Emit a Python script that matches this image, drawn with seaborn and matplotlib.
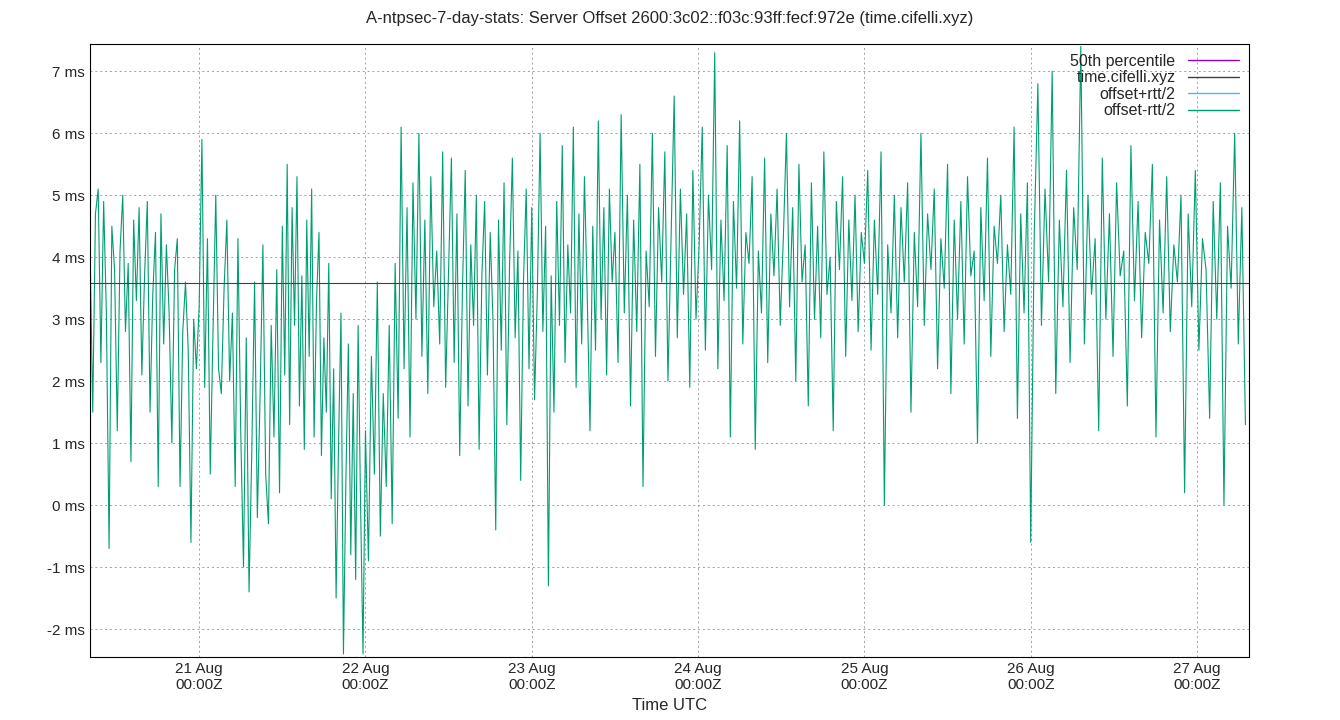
import matplotlib
matplotlib.use("Agg")
import matplotlib.pyplot as plt
import matplotlib.dates as mdates
from matplotlib.lines import Line2D
import seaborn as sns
import pandas as pd
import numpy as np

# segment boundaries (UTC) and offsets in ms
seg_edges = ["2024-08-20 08:15", "2024-08-21 00:00", "2024-08-21 12:00", "2024-08-22 00:00",
             "2024-08-22 12:00", "2024-08-23 12:00", "2024-08-25 00:00", "2024-08-26 00:00",
             "2024-08-27 07:30"]
seg_values = [
    [4.2, 1.5, 4.7, 5.1, 2.3, 4.9, 3.1, -0.7, 4.5, 3.8, 1.2, 4.1, 5.0, 2.8, 3.9, 0.7, 4.6, 3.3, 4.8, 2.1,
     3.7, 4.9, 1.5, 3.4, 4.4, 0.3, 4.7, 2.6, 4.2, 3.1, 1.0, 3.8, 4.3, 0.3, 2.8, 3.6, 2.5, -0.6, 3.0, 2.2],
    [3.2, 5.9, 1.9, 4.3, 0.5, 2.8, 5.0, 2.2, 1.8, 3.5, 4.6, 2.0, 3.1, 0.3, 4.3, 1.2, -1.0, 2.7, -1.4, 0.9,
     3.6, -0.2, 1.8, 4.2, 0.5, -0.3, 2.9, 1.1, 3.8, 0.2],
    [4.5, 2.1, 5.5, 1.3, 4.8, 2.9, 5.3, 1.6, 3.7, 0.9, 4.6, 2.4, 5.1, 1.1, 3.3, 4.4, 0.8, 2.7, 1.5, 3.9,
     0.1, 2.2, -1.5, 1.0, 3.1, -2.4, 0.4, 2.6, -0.8, 1.8, -1.2, 2.9, 0.0, -2.4],
    [1.2, -0.9, 2.4, 0.5, 3.6, -0.5, 1.8, 0.3, 2.9, -0.3, 3.9, 1.4, 6.1, 2.2, 4.8, 1.1, 5.2, 3.0, 6.0, 2.4,
     4.6, 1.8, 5.3, 3.2, 4.1, 2.6, 5.7, 1.9],
    [3.8, 5.6, 2.3, 4.7, 0.8, 3.5, 5.4, 1.6, 4.2, 2.9, 5.0, 0.9, 3.7, 4.9, 2.1, 4.4, 3.0, -0.4, 4.6, 2.5,
     5.2, 1.3, 3.9, 5.6, 2.7, 4.1, 0.4, 3.6, 5.1, 2.2, 4.8, 1.7, 3.4, 6.0, 2.8, 4.5, -1.3, 3.7, 1.5, 4.9,
     2.9, 5.8, 2.3, 4.2, 3.1, 6.1, 1.9, 4.7, 2.6, 5.3, 3.4, 1.2, 4.5, 2.5, 6.2, 3.0, 4.8, 2.1, 5.1, 3.6],
    [4.4, 2.3, 6.3, 3.1, 5.0, 1.6, 4.6, 2.8, 5.5, 0.3, 4.1, 3.2, 6.0, 2.4, 4.8, 3.6, 5.7, 2.0, 4.3, 6.6,
     2.7, 5.1, 3.4, 4.7, 1.9, 5.4, 3.0, 4.2, 6.1, 2.5, 5.0, 3.8, 7.3, 2.2, 4.6, 3.3, 5.8, 1.1, 4.9, 3.5,
     6.2, 2.6, 4.4, 3.9, 5.3, 0.9, 4.1, 3.1, 5.6, 2.3, 4.7, 3.7, 5.1, 2.9, 4.3, 6.0, 3.2, 4.8, 2.0, 5.5,
     3.6, 4.2, 1.6, 5.2, 3.0, 4.5, 2.7, 5.7, 3.4, 4.0, 1.2, 4.9, 3.8, 5.3, 2.4, 4.6, 3.3, 5.0, 2.8, 4.4],
    [3.9, 5.4, 2.5, 4.6, 3.4, 5.7, 0.0, 4.2, 3.1, 5.0, 2.7, 4.8, 3.6, 5.2, 1.5, 4.4, 3.2, 6.0, 2.9, 4.7,
     3.8, 5.1, 2.2, 4.3, 3.5, 5.5, 1.8, 4.6, 3.0, 4.9, 2.6, 5.3, 3.7, 4.1, 1.0, 4.8, 3.3, 5.6, 2.4, 4.5,
     3.9, 5.0, 2.8, 4.2, 3.4, 6.1, 1.4, 4.7, 3.1, 5.2],
    [-0.6, 4.4, 6.8, 2.9, 5.1, 3.6, 7.0, 1.8, 4.6, 3.2, 5.4, 2.3, 4.8, 3.8, 7.4, 2.6, 5.0, 3.4, 4.3, 1.2,
     5.6, 3.0, 4.7, 2.4, 5.2, 3.7, 4.1, 1.6, 5.8, 3.3, 4.9, 2.7, 4.4, 3.9, 5.5, 1.1, 4.6, 3.1, 5.3, 2.8,
     4.2, 3.6, 5.0, 0.2, 4.7, 3.2, 5.4, 2.5, 4.3, 3.8, 1.4, 4.9, 3.0, 5.2, 0.0, 4.5, 3.5, 6.0, 2.6, 4.8, 1.3],
]
median_ms = 3.58

times, vals = [], []
for i, seg in enumerate(seg_values):
    t = pd.date_range(seg_edges[i], seg_edges[i + 1], periods=len(seg) + 1)[:-1]
    times.extend(t)
    vals.extend(seg)
df = pd.DataFrame({"time": times, "offset": vals})

sns.set_style("white")
plt.rcParams["font.family"] = ["Liberation Sans", "DejaVu Sans"]

fig = plt.figure(figsize=(13.4, 7.2), dpi=100)
ax = fig.add_axes([90 / 1340, 63 / 720, 1159 / 1340, 613 / 720])

sns.lineplot(data=df, x="time", y="offset", ax=ax, color="#009e73", linewidth=0.8)
ax.axhline(median_ms, color="#404040", linewidth=0.8)

ax.set_xlim(pd.Timestamp(seg_edges[0]), pd.Timestamp(seg_edges[-1]))
ax.set_ylim(-2.45, 7.44)
ax.set_yticks(range(-2, 8))
ax.set_yticklabels([f"{v} ms" for v in range(-2, 8)])
ax.xaxis.set_major_locator(mdates.DayLocator())
ax.xaxis.set_major_formatter(mdates.DateFormatter("%d %b\n%H:%MZ"))
ax.tick_params(labelsize=11, direction="in", length=5)
ax.grid(True, color="#a0a0a0", linestyle=(0, (2, 3)), linewidth=0.7)
for s in ax.spines.values():
    s.set_color("black")
    s.set_linewidth(0.8)
ax.set_xlabel("Time UTC", fontsize=12)
ax.set_ylabel("")
fig.suptitle("A-ntpsec-7-day-stats: Server Offset 2600:3c02::f03c:93ff:fecf:972e (time.cifelli.xyz)",
             y=0.985, fontsize=12)

handles = [Line2D([], [], color=c, lw=1) for c in ["#9400d3", "#404040", "#56b4e9", "#009e73"]]
labels = ["50th percentile", "time.cifelli.xyz", "offset+rtt/2", "offset-rtt/2"]
ax.legend(handles, labels, loc="upper right", frameon=False, markerfirst=False,
          fontsize=11.5, handlelength=3.2, labelspacing=0.1, borderaxespad=0.2)

plt.savefig("out.png")
